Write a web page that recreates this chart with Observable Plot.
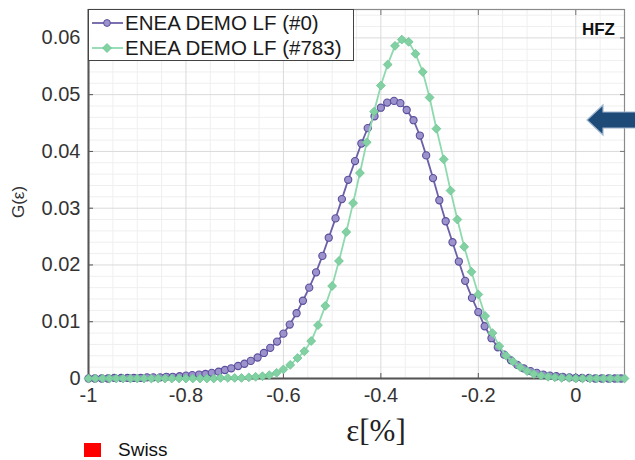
<!DOCTYPE html>
<html>
<head>
<meta charset="utf-8">
<script src="https://cdn.jsdelivr.net/npm/d3@7"></script>
<script src="https://cdn.jsdelivr.net/npm/@observablehq/plot@0.6"></script>
<style>
  html, body { margin: 0; padding: 0; background: #fff; }
  #wrap { position: relative; width: 635px; height: 460px; overflow: hidden; font-family: "Liberation Sans", Arial, sans-serif; }
  #chart { position: absolute; left: 0; top: 0; }
  .ov { position: absolute; white-space: nowrap; }
</style>
</head>
<body>
<div id="wrap">
  <div id="chart"></div>
</div>
<script>
// ---- data ----
const seriesNames = ["ENEA DEMO LF (#0)", "ENEA DEMO LF (#783)"];

const purpleX = [
  -1, -0.987, -0.973, -0.96, -0.947, -0.933, -0.92, -0.907, -0.893, -0.88,
  -0.867, -0.853, -0.84, -0.827, -0.813, -0.8, -0.787, -0.773, -0.76, -0.747,
  -0.733, -0.72, -0.707, -0.693, -0.68, -0.667, -0.653, -0.64, -0.627, -0.613,
  -0.6, -0.587, -0.573, -0.56, -0.547, -0.533, -0.52, -0.507, -0.493, -0.48,
  -0.467, -0.453, -0.44, -0.427, -0.413, -0.4, -0.387, -0.373, -0.36, -0.347,
  -0.333, -0.32, -0.307, -0.293, -0.28, -0.267, -0.253, -0.24, -0.227, -0.213,
  -0.2, -0.187, -0.173, -0.16, -0.147, -0.133, -0.12, -0.107, -0.093, -0.08,
  -0.067, -0.053, -0.04, -0.027, -0.013, 0, 0.013, 0.027, 0.04, 0.053,
  0.067, 0.08, 0.093
];
const purpleY = [
  0.0000, 0.0000, 0.0000, 0.0000, 0.0001, 0.0001, 0.0001, 0.0001, 0.0001, 0.0002,
  0.0002, 0.0002, 0.0003, 0.0003, 0.0004, 0.0005, 0.0006, 0.0007, 0.0008, 0.0010,
  0.0012, 0.0015, 0.0018, 0.0022, 0.0026, 0.0031, 0.0037, 0.0045, 0.0054, 0.0065,
  0.0079, 0.0095, 0.0115, 0.0137, 0.0160, 0.0187, 0.0216, 0.0248, 0.0282, 0.0316,
  0.0350, 0.0383, 0.0414, 0.0441, 0.0462, 0.0477, 0.0486, 0.0489, 0.0485, 0.0473,
  0.0455, 0.0428, 0.0393, 0.0353, 0.0314, 0.0277, 0.0240, 0.0206, 0.0172, 0.0142,
  0.0117, 0.0092, 0.0071, 0.0055, 0.0042, 0.0032, 0.0024, 0.0018, 0.0013, 0.0010,
  0.0007, 0.0005, 0.0004, 0.0003, 0.0002, 0.0001, 0.0001, 0.0001, 0.0000, 0.0000,
  0.0000, 0.0000, 0.0000
];

const greenX = [
  -1, -0.986, -0.971, -0.957, -0.943, -0.929, -0.914, -0.9, -0.886, -0.871,
  -0.857, -0.843, -0.829, -0.814, -0.8, -0.786, -0.771, -0.757, -0.743, -0.729,
  -0.714, -0.7, -0.686, -0.671, -0.657, -0.643, -0.629, -0.614, -0.6, -0.586,
  -0.571, -0.557, -0.543, -0.529, -0.514, -0.5, -0.486, -0.471, -0.457, -0.443,
  -0.429, -0.414, -0.4, -0.386, -0.371, -0.357, -0.343, -0.329, -0.314, -0.3,
  -0.286, -0.271, -0.257, -0.243, -0.229, -0.214, -0.2, -0.186, -0.171, -0.157,
  -0.143, -0.129, -0.114, -0.1, -0.086, -0.071, -0.057, -0.043, -0.029, -0.014,
  0, 0.014, 0.029, 0.043, 0.057, 0.071, 0.086, 0.1
];
const greenY = [
  0, 0, 0, 0, 0, 0, 0, 0, 0, 0,
  0, 0, 0, 0, 0, 0, 0, 0, 0, 0.0001,
  0.0001, 0.0001, 0.0001, 0.0002, 0.0003, 0.0004, 0.0006, 0.0010, 0.0016, 0.0024,
  0.0036, 0.0048, 0.0066, 0.0094, 0.0128, 0.0163, 0.0207, 0.0258, 0.0309, 0.0362,
  0.0416, 0.0470, 0.0516, 0.0553, 0.0586, 0.0597, 0.0593, 0.0572, 0.0540, 0.0495,
  0.0440, 0.0386, 0.0331, 0.0280, 0.0232, 0.0188, 0.0148, 0.0110, 0.0080, 0.0057,
  0.0040, 0.0030, 0.0020, 0.0013, 0.0008, 0.0005, 0.0003, 0.0002, 0.0001, 0.0001,
  0, 0, 0, 0, 0, 0, 0, 0
];

const xMajor = [-1, -0.8, -0.6, -0.4, -0.2, 0];
const xTickLabels = ["-1", "-0.8", "-0.6", "-0.4", "-0.2", "0"];
const xMinor = [-0.95, -0.9, -0.85, -0.75, -0.7, -0.65, -0.55, -0.5, -0.45, -0.35, -0.3, -0.25, -0.15, -0.1, -0.05, 0.05];
const yMajor = [0, 0.01, 0.02, 0.03, 0.04, 0.05, 0.06];
const yTickLabels = ["0", "0.01", "0.02", "0.03", "0.04", "0.05", "0.06"];
const yMinor = [0.002, 0.004, 0.006, 0.008, 0.012, 0.014, 0.016, 0.018, 0.022, 0.024, 0.026, 0.028,
  0.032, 0.034, 0.036, 0.038, 0.042, 0.044, 0.046, 0.048, 0.052, 0.054, 0.056, 0.058, 0.062, 0.064];
const xDomain = [-1, 0.1];
const yDomain = [0, 0.065];

const xTitle = "ε[%]";
const yTitle = "G(ε)";
const panelTag = "HFZ";
const bottomLegend = "Swiss";

// ---- build ----
const purple = purpleX.map((x, i) => ({x, y: purpleY[i]}));
const green = greenX.map((x, i) => ({x, y: greenY[i]}));
const xLab = new Map(xMajor.map((d, i) => [d, xTickLabels[i]]));
const yLab = new Map(yMajor.map((d, i) => [d, yTickLabels[i]]));

const C1 = {line: "#6c60a8", stroke: "#5a4e9c", fill: "#9d93cc"};
const C2 = {line: "#8edaae", stroke: "#6cc393", fill: "#82d1a3"};

const chart = Plot.plot({
  width: 635,
  height: 460,
  marginLeft: 88,
  marginRight: 11,
  marginTop: 9,
  marginBottom: 82,
  style: {fontFamily: "'Liberation Sans', Arial, sans-serif", background: "transparent"},
  x: {domain: xDomain},
  y: {domain: yDomain},
  marks: [
    Plot.ruleX(xMinor, {stroke: "#efefef", strokeWidth: 1}),
    Plot.ruleY(yMinor, {stroke: "#efefef", strokeWidth: 1}),
    Plot.ruleX(xMajor, {stroke: "#dadada", strokeWidth: 1}),
    Plot.ruleY(yMajor, {stroke: "#dadada", strokeWidth: 1}),
    Plot.frame({stroke: "#8a8a8a", strokeWidth: 1.2}),
    Plot.axisX({ticks: xMajor, anchor: "bottom", tickSize: 0, tickPadding: 9, fontSize: 20, fill: "#333", tickFormat: d => xLab.get(d), label: null}),
    Plot.axisY({ticks: yMajor, anchor: "left", tickSize: 0, tickPadding: 8, fontSize: 20, fill: "#333", tickFormat: d => yLab.get(d), label: null}),
    Plot.axisX({ticks: xMajor, anchor: "bottom", tickSize: -5, tickFormat: () => "", stroke: "#555", label: null}),
    Plot.axisX({ticks: xMajor, anchor: "top", tickSize: -5, tickFormat: () => "", stroke: "#777", label: null}),
    Plot.axisY({ticks: yMajor, anchor: "left", tickSize: -5, tickFormat: () => "", stroke: "#555", label: null}),
    Plot.axisY({ticks: yMajor, anchor: "right", tickSize: -5, tickFormat: () => "", stroke: "#777", label: null}),
    Plot.ruleX([xDomain[0]], {stroke: "#555", strokeWidth: 2}),
    Plot.ruleY([yDomain[0]], {stroke: "#555", strokeWidth: 2}),
    Plot.line(purple, {x: "x", y: "y", stroke: C1.line, strokeWidth: 1.8}),
    Plot.dot(purple, {x: "x", y: "y", symbol: "circle", r: 3.6, stroke: C1.stroke, strokeWidth: 1.1, fill: C1.fill}),
    Plot.line(green, {x: "x", y: "y", stroke: C2.line, strokeWidth: 1.8}),
    Plot.dot(green, {x: "x", y: "y", symbol: "diamond2", r: 4, stroke: C2.stroke, strokeWidth: 0.8, fill: C2.fill})
  ]
});
document.getElementById("chart").appendChild(chart);

const wrap = document.getElementById("wrap");
function ov(html, style) {
  const d = document.createElement("div");
  d.className = "ov";
  d.innerHTML = html;
  Object.assign(d.style, style);
  wrap.appendChild(d);
  return d;
}

// legend box
const lg = ov("", {left: "88px", top: "9px", width: "266px", height: "52px", border: "1.5px solid #444", background: "#fff", boxSizing: "border-box"});
const rows = [
  {name: seriesNames[0], c: C1, sym: "circle", y: 13},
  {name: seriesNames[1], c: C2, sym: "diamond", y: 38}
];
rows.forEach(r => {
  const symSvg = r.sym === "circle"
    ? `<circle cx="17" cy="7" r="3.4" fill="${r.c.fill}" stroke="${r.c.stroke}" stroke-width="1"/>`
    : `<path d="M17,2.5 L21.5,7 L17,11.5 L12.5,7 Z" fill="${r.c.fill}" stroke="${r.c.stroke}" stroke-width="0.8"/>`;
  const s = document.createElement("div");
  s.className = "ov";
  s.style.left = "1px"; s.style.top = (r.y - 7) + "px";
  s.innerHTML = `<svg width="36" height="14"><line x1="2" y1="7" x2="33" y2="7" stroke="${r.c.line}" stroke-width="1.8"/>${symSvg}</svg>`;
  lg.appendChild(s);
  const t = document.createElement("div");
  t.className = "ov";
  t.textContent = r.name;
  Object.assign(t.style, {left: "36px", top: (r.y - 12) + "px", fontSize: "20.5px", lineHeight: "24px", color: "#1a1a1a"});
  lg.appendChild(t);
});

// panel tag
ov(panelTag, {right: "20px", top: "20px", fontSize: "17px", fontWeight: "bold", color: "#111"});

// y title
ov(yTitle, {left: "19px", top: "202px", fontSize: "17px", color: "#333", transform: "translate(-50%,-50%) rotate(-90deg)"});

// x title
ov(xTitle, {left: "376px", top: "431px", fontSize: "31px", color: "#222", fontFamily: "'Liberation Serif', 'Times New Roman', serif", transform: "translate(-50%,-50%)"});

// bottom legend (Swiss)
ov(`<span style="display:inline-block;width:17px;height:14px;background:#ff0000;vertical-align:middle;margin-right:17px;"></span><span style="vertical-align:middle">${bottomLegend}</span>`,
   {left: "84px", top: "439px", fontSize: "19px", color: "#111", lineHeight: "19px"});

// arrow
ov(`<svg width="60" height="40"><path d="M2,18 L18,3 L18,10 L60,10 L60,26 L18,26 L18,33 Z" fill="#1e4a78" stroke="#9fb6d0" stroke-width="1.2"/></svg>`,
   {left: "585px", top: "102px"});
</script>
</body>
</html>
